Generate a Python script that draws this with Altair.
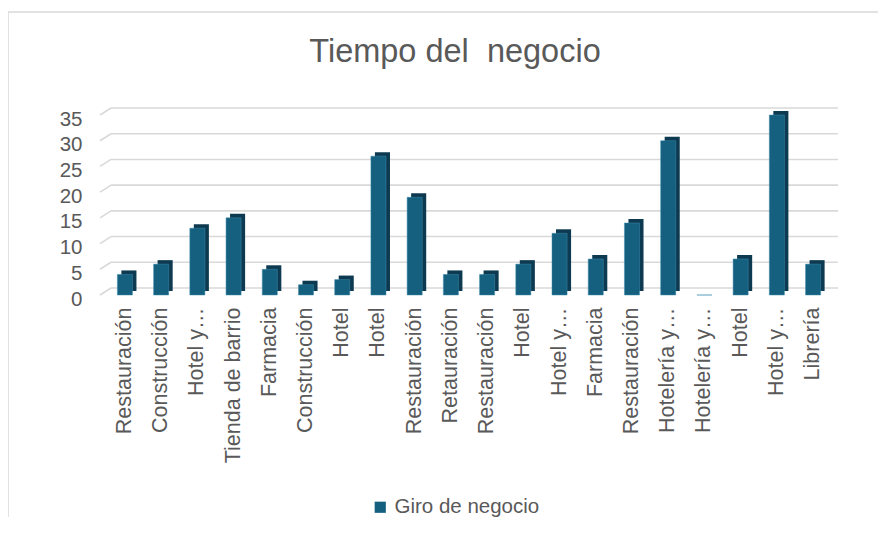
import altair as alt
import pandas as pd

categorias = ["Restauración", "Construcción", "Hotel y…", "Tienda de barrio", "Farmacia",
              "Construcción", "Hotel", "Hotel", "Restauración", "Retauración",
              "Restauración", "Hotel", "Hotel y…", "Farmacia", "Restauración",
              "Hotelería y…", "Hotelería y…", "Hotel", "Hotel y…", "Librería"]
valores = [4, 6, 13, 15, 5, 2, 3, 27, 19, 4, 4, 6, 12, 7, 14, 30, 0, 7, 35, 6]
serie = "Giro de negocio"
ticks_y = [0, 5, 10, 15, 20, 25, 30, 35]

df = pd.DataFrame({
    "idx": list(range(len(categorias))),
    "cat": categorias,
    "valor": valores,
    "serie": [serie] * len(valores),
})
df_ticks = pd.DataFrame({"t": ticks_y})

label_map = "{" + ",".join(f"'{i}':'{c}'" for i, c in enumerate(categorias)) + "}"
label_expr = f"{label_map}[datum.value]"

FONT = "Liberation Sans"
GREY = "#595959"
GRID = "#d9d9d9"

yscale = alt.Scale(domain=[0, 35], nice=False)
yaxis = alt.Axis(values=ticks_y, labelFontSize=20.5, labelOffset=4,
                 labelColor=GREY, labelFont=FONT, grid=False,
                 ticks=False, domain=False, labelPadding=18)

xenc = alt.X("idx:O", title=None,
             scale=alt.Scale(paddingInner=0.584, paddingOuter=0.48),
             axis=alt.Axis(labelExpr=label_expr, labelAngle=-90, labelFontSize=21.5,
                           labelColor=GREY, labelFont=FONT, labelLimit=300,
                           ticks=False, domain=False, labelPadding=12, grid=False,
                           labelBaseline="middle", labelAlign="right"))
yenc = alt.Y("valor:Q", title=None, scale=yscale, axis=yaxis)

# back-wall gridlines and their left diagonal edges
grid_back = alt.Chart(df_ticks).mark_rule(color=GRID, strokeWidth=1.6, yOffset=-7).encode(
    y=alt.Y("t:Q", title=None, scale=yscale, axis=yaxis),
    x=alt.value(11), x2=alt.value(738))
grid_diag = alt.Chart(df_ticks).mark_rule(color=GRID, strokeWidth=1.6, y2Offset=-7).encode(
    y=alt.Y("t:Q", title=None, scale=yscale, axis=yaxis), y2=alt.Y2("t:Q"),
    x=alt.value(0), x2=alt.value(11))

base = alt.Chart(df)
side = base.mark_bar(color="#0d3a50", xOffset=4, yOffset=-4).encode(x=xenc, y=yenc)
front = base.mark_bar(stroke="#3f8cad", strokeWidth=0.5).encode(
    x=xenc, y=yenc,
    color=alt.Color("serie:N", title=None,
                    scale=alt.Scale(domain=[serie], range=["#155f7f"]),
                    legend=alt.Legend(orient="none", legendX=270, legendY=382,
                                      symbolType="square", symbolSize=125,
                                      labelFontSize=20.5, labelColor=GREY,
                                      labelFont=FONT, symbolStrokeWidth=0,
                                      labelOffset=4)),
)

frame_top = alt.Chart(df_ticks.head(1)).mark_rule(color=GRID, strokeWidth=1.5).encode(
    x=alt.value(-92), x2=alt.value(800), y=alt.value(-103))
frame_left = alt.Chart(df_ticks.head(1)).mark_rule(color=GRID, strokeWidth=1.5).encode(
    x=alt.value(-92), y=alt.value(-103), y2=alt.value(420))

chart = alt.layer(grid_back, grid_diag, side, front, frame_top, frame_left).properties(
    width=738, height=180,
    title=alt.TitleParams("Tiempo del \u00a0negocio", fontSize=32.5, font=FONT,
                          fontWeight="normal", color=GREY, offset=-83, dx=-14,
                          anchor="middle", frame="group", baseline="alphabetic"),
    autosize=alt.AutoSizeParams(type="none"),
    padding={"left": 92, "top": 107, "right": 40, "bottom": 222},
).configure_view(stroke=None)

chart.save("out.html", embed_options={"renderer": "svg", "actions": False})
